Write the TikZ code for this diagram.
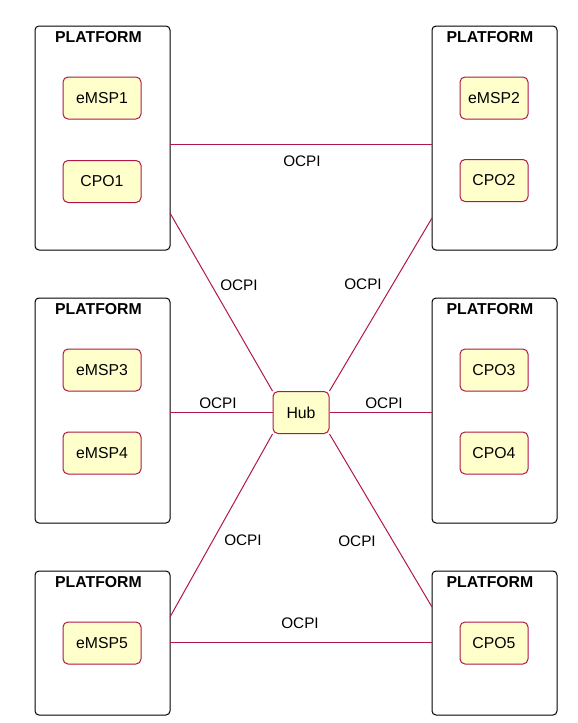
\documentclass[tikz,border=0pt]{standalone}
\usepackage{fontspec}
\setmainfont{Liberation Sans}
\definecolor{linkc}{HTML}{B0184A}
\definecolor{nodefill}{HTML}{FFFFCC}
\begin{document}
\begin{tikzpicture}[x=1pt,y=-1pt,
  plat/.style={draw=black,line width=1pt,rounded corners=4pt},
  ptitle/.style={font=\fontsize{15.8}{18}\selectfont\bfseries,inner sep=0pt},
  ent/.style={draw=linkc,fill=nodefill,line width=1pt,rounded corners=5pt,font=\fontsize{15.8}{18}\selectfont},
  link/.style={draw=linkc,line width=1pt},
  lbl/.style={font=\fontsize{15.3}{17}\selectfont,inner sep=1pt}]
\useasboundingbox (0,0) rectangle (578,723);
% platforms
\draw[plat] (35,26) rectangle (170,250);
\node[minimum width=135pt,minimum height=224pt] (tl) at (102.5,138) {};
\draw[plat] (432,26) rectangle (557,250);
\node[minimum width=125pt,minimum height=224pt] (tr) at (494.5,138) {};
\draw[plat] (35,298) rectangle (170,523);
\node[minimum width=135pt,minimum height=225pt] (ml) at (102.5,410.5) {};
\draw[plat] (432,298) rectangle (557,523);
\node[minimum width=125pt,minimum height=225pt] (mr) at (494.5,410.5) {};
\draw[plat] (35,571) rectangle (170,715);
\node[minimum width=135pt,minimum height=144pt] (bl) at (102.5,643) {};
\draw[plat] (432,571) rectangle (557,715);
\node[minimum width=125pt,minimum height=144pt] (br) at (494.5,643) {};
% titles
\node[ptitle] (t1) at (98.5,37) {PLATFORM};
\node[ptitle] (t2) at (490,37) {PLATFORM};
\node[ptitle] (t3) at (98.5,309) {PLATFORM};
\node[ptitle] (t4) at (490,309) {PLATFORM};
\node[ptitle] (t5) at (98.5,582) {PLATFORM};
\node[ptitle] (t6) at (490,582) {PLATFORM};
% entities
\node[ent,minimum width=78pt,minimum height=42pt] (emsp1) at (102,98) {eMSP1};
\node[ent,minimum width=78pt,minimum height=42pt] (cpo1) at (102,181.5) {CPO1};
\node[ent,minimum width=68pt,minimum height=42pt] (emsp2) at (494,98) {eMSP2};
\node[ent,minimum width=68pt,minimum height=42pt] (cpo2) at (494,180.5) {CPO2};
\node[ent,minimum width=78pt,minimum height=42pt] (emsp3) at (102,370) {eMSP3};
\node[ent,minimum width=78pt,minimum height=42pt] (emsp4) at (102,453) {eMSP4};
\node[ent,minimum width=68pt,minimum height=42pt] (cpo3) at (494,370) {CPO3};
\node[ent,minimum width=68pt,minimum height=42pt] (cpo4) at (494,453) {CPO4};
\node[ent,minimum width=78pt,minimum height=42pt] (emsp5) at (102,643) {eMSP5};
\node[ent,minimum width=68pt,minimum height=42pt] (cpo5) at (494,643) {CPO5};
\node[ent,minimum width=56pt,minimum height=42pt] (hub) at (301,412.5) {Hub};
% connectors
\coordinate (a1) at (170,144.5); \coordinate (a2) at (432,144.5);
\draw[link] (a1) -- (a2);
\node[lbl] at (302,161) {OCPI};
\coordinate (b1) at (170,213);
\draw[link] (b1) -- (hub.north west);
\node[lbl] at (239,285) {OCPI};
\coordinate (c1) at (432,218);
\draw[link] (c1) -- (hub.north east);
\node[lbl] at (363,284) {OCPI};
\coordinate (d1) at (170,412.5);
\draw[link] (d1) -- (hub.west);
\node[lbl] at (218,403) {OCPI};
\coordinate (e1) at (432,412.5);
\draw[link] (hub.east) -- (e1);
\node[lbl] at (384,403) {OCPI};
\coordinate (f1) at (170,617);
\draw[link] (hub.south west) -- (f1);
\node[lbl] at (243,540) {OCPI};
\coordinate (g1) at (432,607);
\draw[link] (hub.south east) -- (g1);
\node[lbl] at (357,541) {OCPI};
\coordinate (h1) at (170,642); \coordinate (h2) at (432,642);
\draw[link] (h1) -- (h2);
\node[lbl] at (300,623) {OCPI};
\end{tikzpicture}
\end{document}
